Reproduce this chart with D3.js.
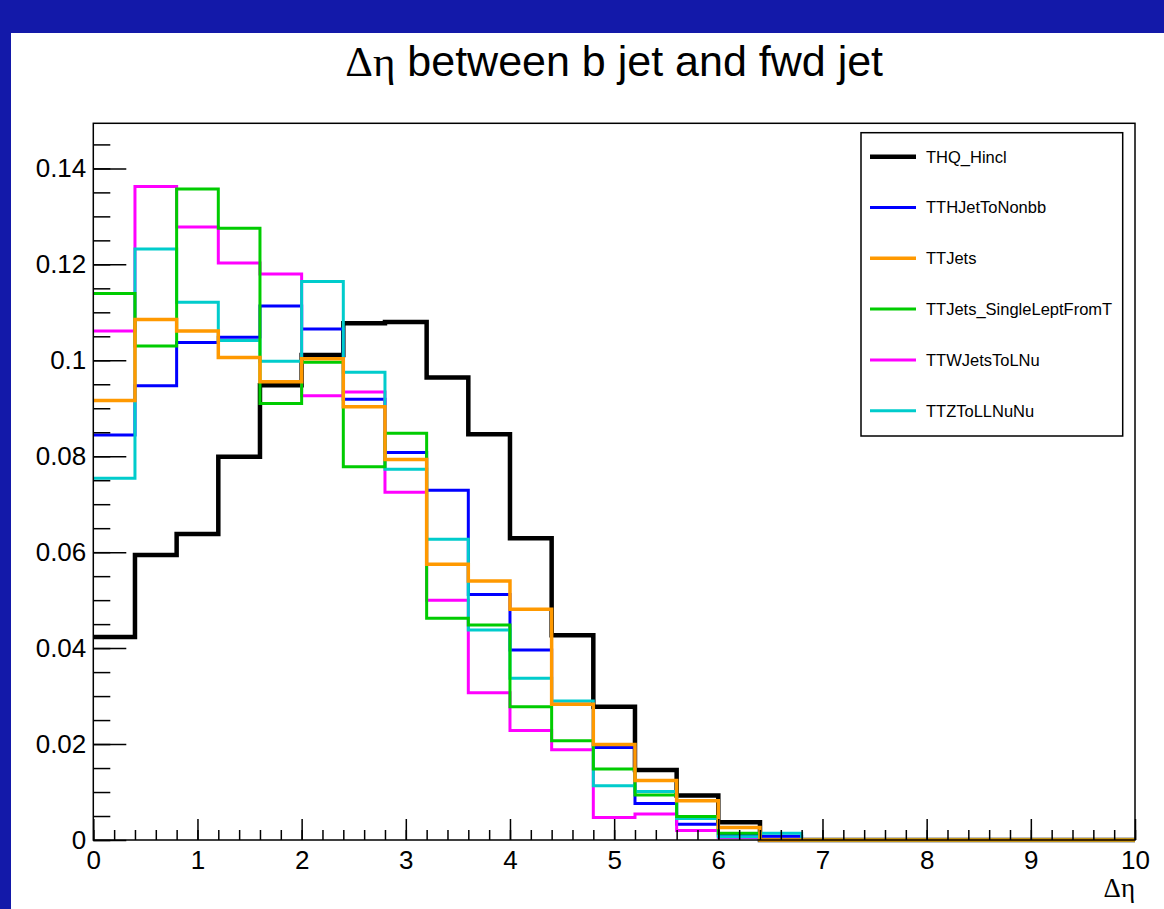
<!DOCTYPE html>
<html>
<head>
<meta charset="utf-8">
<script src="https://cdn.jsdelivr.net/npm/d3@7"></script>
<style>
  html, body { margin: 0; padding: 0; background: #1319a9; }
  svg { display: block; font-family: "Liberation Sans", Arial, Helvetica, sans-serif; }
</style>
</head>
<body>
<svg id="chart" width="1164" height="909"></svg>
<script>
// bin edges of the Δη histogram (25 bins of 0.4)
const binEdges = [0, 0.4, 0.8, 1.2, 1.6, 2.0, 2.4, 2.8, 3.2, 3.6, 4.0, 4.4, 4.8, 5.2,
  5.6, 6.0, 6.4, 6.8, 7.2, 7.6, 8.0, 8.4, 8.8, 9.2, 9.6, 10.0];

const thq = [0.0423, 0.0594, 0.0638, 0.0799, 0.0948, 0.1011, 0.1077, 0.1080, 0.0964, 0.0846,
  0.0629, 0.0427, 0.0278, 0.0146, 0.0093, 0.0037, 0, 0, 0, 0, 0, 0, 0, 0, 0];
const tth = [0.0844, 0.0947, 0.1037, 0.1048, 0.1113, 0.1065, 0.0919, 0.0808, 0.0729, 0.0512,
  0.0396, 0.0283, 0.0193, 0.0076, 0.0033, 0.0010, 0.0008, 0, 0, 0, 0, 0, 0, 0, 0];
const ttjets = [0.0916, 0.1085, 0.1061, 0.1006, 0.0955, 0.1003, 0.0903, 0.0793, 0.0575, 0.0540,
  0.0481, 0.0283, 0.0199, 0.0124, 0.0082, 0.0026, 0, 0, 0, 0, 0, 0, 0, 0, 0];
const ttjetsSL = [0.1139, 0.1030, 0.1357, 0.1275, 0.0910, 0.0996, 0.0778, 0.0848, 0.0462, 0.0448,
  0.0278, 0.0207, 0.0148, 0.0094, 0.0049, 0.0014, 0, 0, 0, 0, 0, 0, 0, 0, 0];
const ttw = [0.1061, 0.1362, 0.1278, 0.1203, 0.1180, 0.0926, 0.0934, 0.0725, 0.0500, 0.0307,
  0.0228, 0.0188, 0.0047, 0.0054, 0.0020, 0.0005, 0, 0, 0, 0, 0, 0, 0, 0, 0];
const ttz = [0.0754, 0.1232, 0.1121, 0.1041, 0.0998, 0.1164, 0.0975, 0.0773, 0.0627, 0.0438,
  0.0337, 0.0290, 0.0113, 0.0101, 0.0045, 0.0007, 0.0014, 0, 0, 0, 0, 0, 0, 0, 0];

const xTickValues = [0, 1, 2, 3, 4, 5, 6, 7, 8, 9, 10];
const yTickValues = [0, 0.02, 0.04, 0.06, 0.08, 0.1, 0.12, 0.14];

// legend order
const series = [
  { name: "THQ_Hincl", values: thq, color: "#000000", width: 4.5 },
  { name: "TTHJetToNonbb", values: tth, color: "#0000ff", width: 3 },
  { name: "TTJets", values: ttjets, color: "#ff9900", width: 3.5 },
  { name: "TTJets_SingleLeptFromT", values: ttjetsSL, color: "#00cc00", width: 3 },
  { name: "TTWJetsToLNu", values: ttw, color: "#ff00ff", width: 3 },
  { name: "TTZToLLNuNu", values: ttz, color: "#00cccc", width: 3 }
];
// order the outlines are painted in
const drawOrder = ["THQ_Hincl", "TTHJetToNonbb", "TTWJetsToLNu", "TTZToLLNuNu",
  "TTJets_SingleLeptFromT", "TTJets"];

const svg = d3.select("#chart");
const greekFont = "\"Liberation Serif\", \"DejaVu Serif\", serif";

// white canvas on the blue window
svg.append("rect")
  .attr("x", 11).attr("y", 33)
  .attr("width", 1164 - 11).attr("height", 909 - 33)
  .attr("fill", "#ffffff");

const padL = 93.3, padR = 1135, padT = 123.3, padB = 840;

const x = d3.scaleLinear().domain([0, 10]).range([padL, padR]);
const y = d3.scaleLinear().domain([0, 0.1494]).range([padB, padT]);

// title (Greek part in a symbol-like serif, as ROOT does)
const title = svg.append("text")
  .attr("x", (padL + padR) / 2)
  .attr("y", 76)
  .attr("text-anchor", "middle")
  .attr("font-size", 43)
  .attr("fill", "#000");
title.append("tspan").attr("font-family", greekFont).text("Δη");
title.append("tspan").text(" between b jet and fwd jet");

// histograms
const line = d3.line()
  .x(d => x(d[0]))
  .y(d => y(d[1]))
  .curve(d3.curveStepAfter);

const plot = svg.append("g");
drawOrder.forEach(name => {
  const s = series.find(d => d.name === name);
  const pts = s.values.map((v, i) => [binEdges[i], v]);
  pts.push([binEdges[binEdges.length - 1], s.values[s.values.length - 1]]);
  plot.append("path")
    .attr("d", line(pts))
    .attr("fill", "none")
    .attr("stroke", s.color)
    .attr("stroke-width", s.width)
    .attr("stroke-linejoin", "miter")
    .attr("stroke-linecap", "butt");
});

// axes (ROOT style: ticks pointing inward)
const fontSize = 26;

const xAxis = svg.append("g")
  .attr("transform", `translate(0,${padB})`)
  .call(d3.axisBottom(x).tickValues(xTickValues).tickSize(-21).tickPadding(11)
    .tickFormat(d3.format("d")));
svg.append("g")
  .attr("transform", `translate(0,${padB})`)
  .call(d3.axisBottom(x).tickValues(d3.range(0, 10.001, 0.2)).tickSize(-10).tickFormat(""))
  .call(g => g.select(".domain").remove());

const yAxis = svg.append("g")
  .attr("transform", `translate(${padL},0)`)
  .call(d3.axisLeft(y).tickValues(yTickValues).tickSize(-33).tickPadding(7)
    .tickFormat(d => String(+d.toFixed(2))));
svg.append("g")
  .attr("transform", `translate(${padL},0)`)
  .call(d3.axisLeft(y).tickValues(d3.range(0, 0.1491, 0.005)).tickSize(-17).tickFormat(""))
  .call(g => g.select(".domain").remove());

svg.selectAll(".tick line").attr("stroke", "#000").attr("stroke-width", 1.5);
svg.selectAll(".domain").remove();
[xAxis, yAxis].forEach(a => a.selectAll("text")
  .attr("font-size", fontSize)
  .attr("font-family", "\"Liberation Sans\", Arial, sans-serif")
  .attr("fill", "#000"));

// frame
svg.append("rect")
  .attr("x", padL).attr("y", padT)
  .attr("width", padR - padL).attr("height", padB - padT)
  .attr("fill", "none")
  .attr("stroke", "#000")
  .attr("stroke-width", 1.5);

// x axis title
svg.append("text")
  .attr("x", padR)
  .attr("y", 897)
  .attr("text-anchor", "end")
  .attr("font-size", 27)
  .attr("font-family", greekFont)
  .text("Δη");

// legend
const legend = svg.append("g");
legend.append("rect")
  .attr("x", 861).attr("y", 132.7)
  .attr("width", 1122.7 - 861).attr("height", 436 - 132.7)
  .attr("fill", "#fff")
  .attr("stroke", "#000")
  .attr("stroke-width", 1.5);

const legendRow = d3.scaleLinear().domain([0, 5]).range([156.7, 410.7]);
series.forEach((s, i) => {
  const ly = legendRow(i);
  legend.append("line")
    .attr("x1", 870).attr("x2", 916)
    .attr("y1", ly).attr("y2", ly)
    .attr("stroke", s.color)
    .attr("stroke-width", s.width);
  legend.append("text")
    .attr("x", 926)
    .attr("y", ly)
    .attr("dy", "0.36em")
    .attr("font-size", 16.5)
    .text(s.name);
});
</script>
</body>
</html>
